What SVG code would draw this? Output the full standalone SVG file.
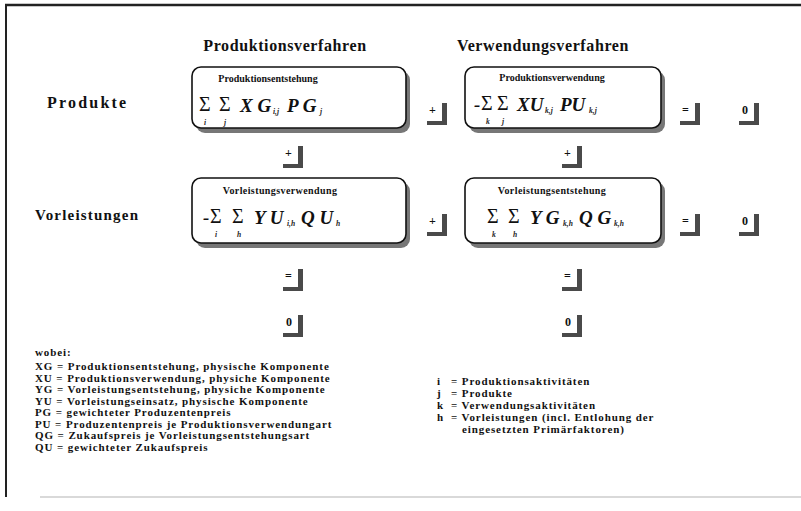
<svg xmlns="http://www.w3.org/2000/svg" xmlns:xlink="http://www.w3.org/1999/xlink" width="801" height="511" viewBox="0 0 801 511">
<style>
.hd{font-family:"Liberation Serif",serif;font-weight:bold;font-size:16px;letter-spacing:0.6px;fill:#111}
.rl{font-family:"Liberation Serif",serif;font-weight:bold;font-size:16px;letter-spacing:2.2px;fill:#111}
.bl{font-family:"Liberation Serif",serif;font-weight:bold;font-size:10px;fill:#111}
.fm{font-family:"Liberation Serif",serif;font-style:italic;font-weight:bold;font-size:19px;fill:#111}
.sg{font-family:"Liberation Serif",serif;font-size:20px;fill:#111}
.sb{font-family:"Liberation Serif",serif;font-style:italic;font-weight:bold;font-size:7.5px;fill:#222}
.op{font-family:"Liberation Serif",serif;font-weight:bold;font-size:12px;fill:#111}
.lg{font-family:"Liberation Serif",serif;font-weight:bold;font-size:11px;letter-spacing:0.9px;fill:#111}
.box{fill:#fff;stroke:#111;stroke-width:1.6}
.sh{fill:#777}
</style>
<defs>
<g id="L"><rect x="15" y="0" width="5" height="22" fill="#4a4a4a"/><rect x="0" y="18" width="20" height="4" fill="#4a4a4a"/></g>
</defs>
<rect x="0" y="0" width="801" height="511" fill="#fff"/>
<g id="frame">
<line x1="5" y1="5" x2="801" y2="5" stroke="#222" stroke-width="2.5"/>
<line x1="6" y1="4" x2="6" y2="497" stroke="#222" stroke-width="2"/>
<line x1="40" y1="497" x2="801" y2="497" stroke="#ccc" stroke-width="1.5"/>
</g>
<g id="headers">
<text class="hd" x="285" y="51" text-anchor="middle">Produktionsverfahren</text>
<text class="hd" x="543" y="51" text-anchor="middle">Verwendungsverfahren</text>
<text class="rl" x="47" y="108">Produkte</text>
<text class="rl" x="35" y="220" style="font-size:15px;letter-spacing:1.2px">Vorleistungen</text>
</g>
<g id="box1">
<rect class="sh" x="196" y="71" width="214" height="62" rx="9"/>
<rect class="box" x="192" y="67" width="214" height="61" rx="9"/>
<text class="bl" x="268" y="82" text-anchor="middle">Produktionsentstehung</text>
<text class="sg" x="199" y="111">Σ</text><text class="sb" x="204" y="125">i</text>
<text class="sg" x="219" y="111">Σ</text><text class="sb" x="224" y="125">j</text>
<text class="fm" x="240" y="112">X G</text><text class="sb" x="273" y="114">i,j</text>
<text class="fm" x="287" y="112">P G</text><text class="sb" x="320" y="114">j</text>
</g>
<g id="box2">
<rect class="sh" x="469" y="71" width="196" height="62" rx="9"/>
<rect class="box" x="465" y="67" width="196" height="61" rx="9"/>
<text class="bl" x="552" y="81" text-anchor="middle">Produktionsverwendung</text>
<text class="fm" x="474" y="111">-</text>
<text class="sg" x="481" y="110">Σ</text><text class="sb" x="486" y="124">k</text>
<text class="sg" x="497" y="110">Σ</text><text class="sb" x="502" y="124">j</text>
<text class="fm" x="517" y="111">XU</text><text class="sb" x="545" y="113">k,j</text>
<text class="fm" x="560" y="111">PU</text><text class="sb" x="589" y="113">k,j</text>
</g>
<g id="box3">
<rect class="sh" x="196" y="182" width="214" height="66" rx="9"/>
<rect class="box" x="192" y="178" width="214" height="65" rx="9"/>
<text class="bl" x="280" y="194" text-anchor="middle" style="letter-spacing:0.4px">Vorleistungsverwendung</text>
<text class="fm" x="203" y="224">-</text>
<text class="sg" x="210" y="223">Σ</text><text class="sb" x="215" y="237">i</text>
<text class="sg" x="232" y="223">Σ</text><text class="sb" x="237" y="237">h</text>
<text class="fm" x="254" y="224">Y U</text><text class="sb" x="287" y="226">i,h</text>
<text class="fm" x="301" y="224">Q U</text><text class="sb" x="336" y="226">h</text>
</g>
<g id="box4">
<rect class="sh" x="469" y="182" width="196" height="66" rx="9"/>
<rect class="box" x="465" y="178" width="196" height="65" rx="9"/>
<text class="bl" x="552" y="194" text-anchor="middle" style="letter-spacing:0.4px">Vorleistungsentstehung</text>
<text class="sg" x="487" y="223">Σ</text><text class="sb" x="492" y="237">k</text>
<text class="sg" x="508" y="223">Σ</text><text class="sb" x="513" y="237">h</text>
<text class="fm" x="530" y="224">Y G</text><text class="sb" x="563" y="226">k,h</text>
<text class="fm" x="579" y="224">Q G</text><text class="sb" x="614" y="226">k,h</text>
</g>
<g id="connectors">
<g transform="translate(427,103)"><use xlink:href="#L"/><text class="op" x="2" y="11">+</text></g>
<g transform="translate(680,103)"><use xlink:href="#L"/><text class="op" x="2" y="11">=</text></g>
<g transform="translate(739,103)"><use xlink:href="#L"/><text class="op" x="3" y="11">0</text></g>
<g transform="translate(283,146)"><use xlink:href="#L"/><text class="op" x="2" y="11">+</text></g>
<g transform="translate(562,146)"><use xlink:href="#L"/><text class="op" x="2" y="11">+</text></g>
<g transform="translate(427,214)"><use xlink:href="#L"/><text class="op" x="2" y="11">+</text></g>
<g transform="translate(680,214)"><use xlink:href="#L"/><text class="op" x="2" y="11">=</text></g>
<g transform="translate(739,214)"><use xlink:href="#L"/><text class="op" x="3" y="11">0</text></g>
<g transform="translate(283,269)"><use xlink:href="#L"/><text class="op" x="2" y="11">=</text></g>
<g transform="translate(283,315)"><use xlink:href="#L"/><text class="op" x="3" y="11">0</text></g>
<g transform="translate(562,269)"><use xlink:href="#L"/><text class="op" x="2" y="11">=</text></g>
<g transform="translate(562,315)"><use xlink:href="#L"/><text class="op" x="3" y="11">0</text></g>
</g>
<g id="legend-left">
<text class="lg" x="35" y="356">wobei:</text>
<text class="lg" x="35" y="370">XG = Produktionsentstehung, physische Komponente</text>
<text class="lg" x="35" y="381.5">XU = Produktionsverwendung, physiche Komponente</text>
<text class="lg" x="35" y="393">YG = Vorleistungsentstehung, physiche Komponente</text>
<text class="lg" x="35" y="404.5">YU = Vorleistungseinsatz, physische Komponente</text>
<text class="lg" x="35" y="416">PG = gewichteter Produzentenpreis</text>
<text class="lg" x="35" y="427.5">PU = Produzentenpreis je Produktionsverwendungart</text>
<text class="lg" x="35" y="439">QG = Zukaufspreis je Vorleistungsentstehungsart</text>
<text class="lg" x="35" y="450.5">QU = gewichteter Zukaufspreis</text>
</g>
<g id="legend-right">
<text class="lg" x="437" y="385">i</text><text class="lg" x="451" y="385">= Produktionsaktivitäten</text>
<text class="lg" x="437" y="397">j</text><text class="lg" x="451" y="397">= Produkte</text>
<text class="lg" x="437" y="409">k</text><text class="lg" x="451" y="409">= Verwendungsaktivitäten</text>
<text class="lg" x="437" y="421">h</text><text class="lg" x="451" y="421">= Vorleistungen (incl. Entlohung der</text>
<text class="lg" x="462" y="433">eingesetzten Primärfaktoren)</text>
</g>
</svg>
